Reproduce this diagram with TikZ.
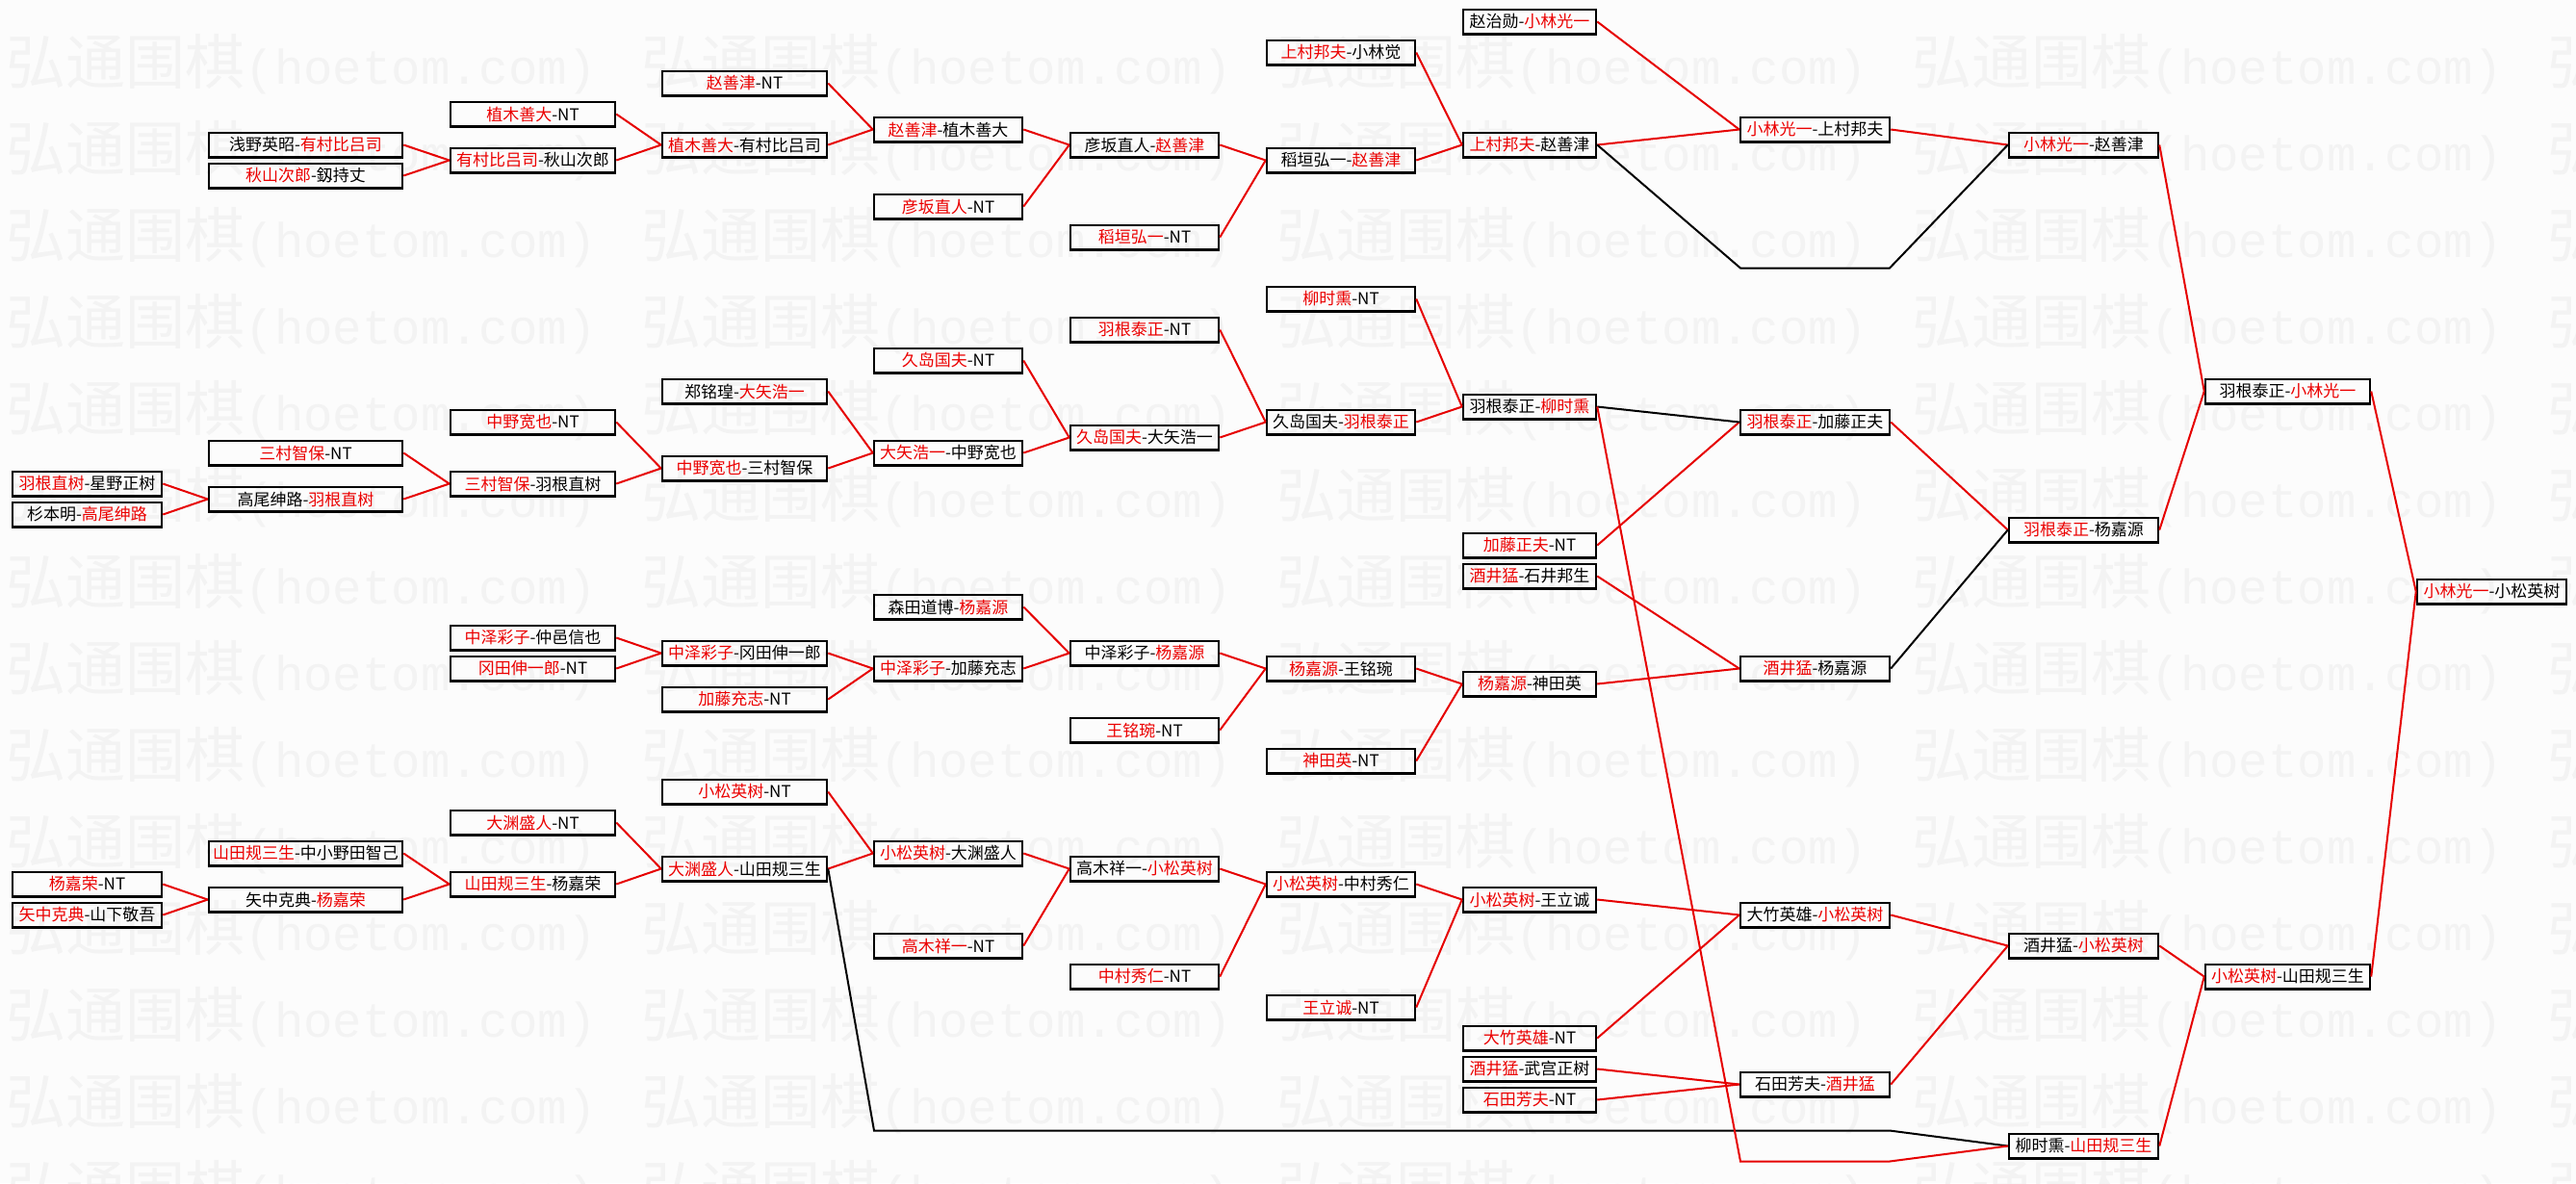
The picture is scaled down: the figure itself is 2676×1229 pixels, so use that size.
\documentclass[tikz,border=0pt]{standalone}
\usepackage{fontspec}
\setmainfont{Noto Sans CJK SC}
\newfontfamily\wmmono{Liberation Mono}
\definecolor{tred}{RGB}{235,0,0}
\definecolor{lred}{RGB}{230,0,0}
\definecolor{wmgray}{RGB}{243,243,243}
\definecolor{bggray}{RGB}{252,252,252}
\newcommand\rd[1]{\textcolor{tred}{#1}}
\newcommand\mybx[5]{\node[box,#4] (#1) at (#2,{22.5+16*#3}) {#5};}
\tikzset{
  box/.style={draw=black,line width=0.75pt,rectangle,minimum height=7.65pt,inner sep=0pt,
    font={\fontsize{5.1pt}{6pt}\selectfont},text=black},
  wA/.style={minimum width=46.5pt},
  wB/.style={minimum width=60.3pt},
  wC/.style={minimum width=51.3pt},
  wD/.style={minimum width=46.2pt},
  wE/.style={minimum width=41.4pt},
  rl/.style={draw=lred,line width=0.6pt},
  bl/.style={draw=black,line width=0.6pt},
  wm/.style={text=wmgray,inner sep=0pt,anchor=west},
}
\begin{document}
\begin{tikzpicture}[x=0.3pt,y=-0.3pt]
\fill[bggray] (0,0) rectangle (2676,1229);
\useasboundingbox (0,0) rectangle (2676,1229);
\begin{scope}
\clip (0,0) rectangle (2676,1229);
\foreach \j in {0,...,13} {
  \foreach \i in {0,...,4} {
    \node[wm] (wm\i-\j) at ({6+660*\i},{67+90*\j})
      {{\fontsize{18.6pt}{20pt}\selectfont 弘通围棋}{\wmmono\fontsize{15.2pt}{17pt}\selectfont (hoetom.com)}};
  }
}
\end{scope}

% column 0
\mybx{c0r30}{90.5}{30}{wA}{\rd{羽根直树}-星野正树}
\mybx{c0r32}{90.5}{32}{wA}{杉本明-\rd{高尾绅路}}
\mybx{c0r56}{90.5}{56}{wA}{\rd{杨嘉荣}-NT}
\mybx{c0r58}{90.5}{58}{wA}{\rd{矢中克典}-山下敬吾}
% column 1
\mybx{c1r8}{317.5}{8}{wB}{浅野英昭-\rd{有村比吕司}}
\mybx{c1r10}{317.5}{10}{wB}{\rd{秋山次郎}-釼持丈}
\mybx{c1r28}{317.5}{28}{wB}{\rd{三村智保}-NT}
\mybx{c1r31}{317.5}{31}{wB}{高尾绅路-\rd{羽根直树}}
\mybx{c1r54}{317.5}{54}{wB}{\rd{山田规三生}-中小野田智己}
\mybx{c1r57}{317.5}{57}{wB}{矢中克典-\rd{杨嘉荣}}
% column 2
\mybx{c2r6}{553.5}{6}{wC}{\rd{植木善大}-NT}
\mybx{c2r9}{553.5}{9}{wC}{\rd{有村比吕司}-秋山次郎}
\mybx{c2r26}{553.5}{26}{wC}{\rd{中野宽也}-NT}
\mybx{c2r30}{553.5}{30}{wC}{\rd{三村智保}-羽根直树}
\mybx{c2r40}{553.5}{40}{wC}{\rd{中泽彩子}-仲邑信也}
\mybx{c2r42}{553.5}{42}{wC}{\rd{冈田伸一郎}-NT}
\mybx{c2r52}{553.5}{52}{wC}{\rd{大渊盛人}-NT}
\mybx{c2r56}{553.5}{56}{wC}{\rd{山田规三生}-杨嘉荣}
% column 3
\mybx{c3r4}{773.5}{4}{wC}{\rd{赵善津}-NT}
\mybx{c3r8}{773.5}{8}{wC}{\rd{植木善大}-有村比吕司}
\mybx{c3r24}{773.5}{24}{wC}{郑铭瑝-\rd{大矢浩一}}
\mybx{c3r29}{773.5}{29}{wC}{\rd{中野宽也}-三村智保}
\mybx{c3r41}{773.5}{41}{wC}{\rd{中泽彩子}-冈田伸一郎}
\mybx{c3r44}{773.5}{44}{wC}{\rd{加藤充志}-NT}
\mybx{c3r50}{773.5}{50}{wC}{\rd{小松英树}-NT}
\mybx{c3r55}{773.5}{55}{wC}{\rd{大渊盛人}-山田规三生}
% column 4
\mybx{c4r7}{985}{7}{wD}{\rd{赵善津}-植木善大}
\mybx{c4r12}{985}{12}{wD}{\rd{彦坂直人}-NT}
\mybx{c4r22}{985}{22}{wD}{\rd{久岛国夫}-NT}
\mybx{c4r28}{985}{28}{wD}{\rd{大矢浩一}-中野宽也}
\mybx{c4r38}{985}{38}{wD}{森田道博-\rd{杨嘉源}}
\mybx{c4r42}{985}{42}{wD}{\rd{中泽彩子}-加藤充志}
\mybx{c4r54}{985}{54}{wD}{\rd{小松英树}-大渊盛人}
\mybx{c4r60}{985}{60}{wD}{\rd{高木祥一}-NT}
% column 5
\mybx{c5r8}{1189}{8}{wD}{彦坂直人-\rd{赵善津}}
\mybx{c5r14}{1189}{14}{wD}{\rd{稻垣弘一}-NT}
\mybx{c5r20}{1189}{20}{wD}{\rd{羽根泰正}-NT}
\mybx{c5r27}{1189}{27}{wD}{\rd{久岛国夫}-大矢浩一}
\mybx{c5r41}{1189}{41}{wD}{中泽彩子-\rd{杨嘉源}}
\mybx{c5r46}{1189}{46}{wD}{\rd{王铭琬}-NT}
\mybx{c5r55}{1189}{55}{wD}{高木祥一-\rd{小松英树}}
\mybx{c5r62}{1189}{62}{wD}{\rd{中村秀仁}-NT}
% column 6
\mybx{c6r2}{1393}{2}{wD}{\rd{上村邦夫}-小林觉}
\mybx{c6r9}{1393}{9}{wD}{稻垣弘一-\rd{赵善津}}
\mybx{c6r18}{1393}{18}{wD}{\rd{柳时熏}-NT}
\mybx{c6r26}{1393}{26}{wD}{久岛国夫-\rd{羽根泰正}}
\mybx{c6r42}{1393}{42}{wD}{\rd{杨嘉源}-王铭琬}
\mybx{c6r48}{1393}{48}{wD}{\rd{神田英}-NT}
\mybx{c6r56}{1393}{56}{wD}{\rd{小松英树}-中村秀仁}
\mybx{c6r64}{1393}{64}{wD}{\rd{王立诚}-NT}
% column 7
\mybx{c7r0}{1589}{0}{wE}{赵治勋-\rd{小林光一}}
\mybx{c7r8}{1589}{8}{wE}{\rd{上村邦夫}-赵善津}
\mybx{c7r25}{1589}{25}{wE}{羽根泰正-\rd{柳时熏}}
\mybx{c7r34}{1589}{34}{wE}{\rd{加藤正夫}-NT}
\mybx{c7r36}{1589}{36}{wE}{\rd{酒井猛}-石井邦生}
\mybx{c7r43}{1589}{43}{wE}{\rd{杨嘉源}-神田英}
\mybx{c7r57}{1589}{57}{wE}{\rd{小松英树}-王立诚}
\mybx{c7r66}{1589}{66}{wE}{\rd{大竹英雄}-NT}
\mybx{c7r68}{1589}{68}{wE}{\rd{酒井猛}-武宫正树}
\mybx{c7r70}{1589}{70}{wE}{\rd{石田芳夫}-NT}
% column 8
\mybx{c8r7}{1885.5}{7}{wA}{\rd{小林光一}-上村邦夫}
\mybx{c8r26}{1885.5}{26}{wA}{\rd{羽根泰正}-加藤正夫}
\mybx{c8r42}{1885.5}{42}{wA}{\rd{酒井猛}-杨嘉源}
\mybx{c8r58}{1885.5}{58}{wA}{大竹英雄-\rd{小松英树}}
\mybx{c8r69}{1885.5}{69}{wA}{石田芳夫-\rd{酒井猛}}
% column 9
\mybx{c9r8}{2164.5}{8}{wA}{\rd{小林光一}-赵善津}
\mybx{c9r33}{2164.5}{33}{wA}{\rd{羽根泰正}-杨嘉源}
\mybx{c9r60}{2164.5}{60}{wA}{酒井猛-\rd{小松英树}}
\mybx{c9r73}{2164.5}{73}{wA}{柳时熏-\rd{山田规三生}}
% column 10
\mybx{c10r24}{2376.5}{24}{wC}{羽根泰正-\rd{小林光一}}
\mybx{c10r62}{2376.5}{62}{wC}{\rd{小松英树}-山田规三生}
% column 11
\mybx{c11r37}{2588.5}{37}{wA}{\rd{小林光一}-小松英树}

% bypass points
\coordinate (t1) at (1808,278.5);
\coordinate (t2) at (1963,278.5);
\coordinate (b1) at (908,1174.5);
\coordinate (b2) at (1963,1174.5);
\coordinate (r1) at (1808,1206.5);
\coordinate (r2) at (1963,1206.5);

% red connectors
\foreach \a/\b in {c1r8/c2r9,c1r10/c2r9,c2r6/c3r8,c2r9/c3r8,c3r4/c4r7,c3r8/c4r7,
  c4r7/c5r8,c4r12/c5r8,c5r8/c6r9,c5r14/c6r9,c6r2/c7r8,c6r9/c7r8,c7r0/c8r7,c7r8/c8r7,
  c8r7/c9r8,c9r8/c10r24,
  c3r24/c4r28,c2r26/c3r29,c2r30/c3r29,c3r29/c4r28,c1r28/c2r30,c1r31/c2r30,
  c0r30/c1r31,c0r32/c1r31,c4r22/c5r27,c4r28/c5r27,c5r20/c6r26,c5r27/c6r26,
  c6r18/c7r25,c6r26/c7r25,c7r34/c8r26,c8r26/c9r33,c9r33/c10r24,c10r24/c11r37,
  c7r36/c8r42,c7r43/c8r42,c6r42/c7r43,c6r48/c7r43,c5r41/c6r42,c5r46/c6r42,
  c4r38/c5r41,c4r42/c5r41,c3r41/c4r42,c3r44/c4r42,c2r40/c3r41,c2r42/c3r41,
  c0r56/c1r57,c0r58/c1r57,c1r54/c2r56,c1r57/c2r56,c2r52/c3r55,c2r56/c3r55,
  c3r50/c4r54,c3r55/c4r54,c4r54/c5r55,c4r60/c5r55,c5r55/c6r56,c5r62/c6r56,
  c6r56/c7r57,c6r64/c7r57,c7r57/c8r58,c7r66/c8r58,c8r58/c9r60,c7r68/c8r69,
  c7r70/c8r69,c8r69/c9r60,c9r60/c10r62,c9r73/c10r62,c10r62/c11r37}
  {\draw[rl] (\a.east) -- (\b.west);}

% black connectors
\draw[bl] (c7r25.east) -- (c8r26.west);
\draw[bl] (c8r42.east) -- (c9r33.west);
\draw[bl] (c7r8.east) -- (t1) -- (t2) -- (c9r8.west);
\draw[bl] (c3r55.east) -- (b1) -- (b2) -- (c9r73.west);
% red long path
\draw[rl] (c7r25.east) -- (r1) -- (r2) -- (c9r73.west);
\end{tikzpicture}
\end{document}
